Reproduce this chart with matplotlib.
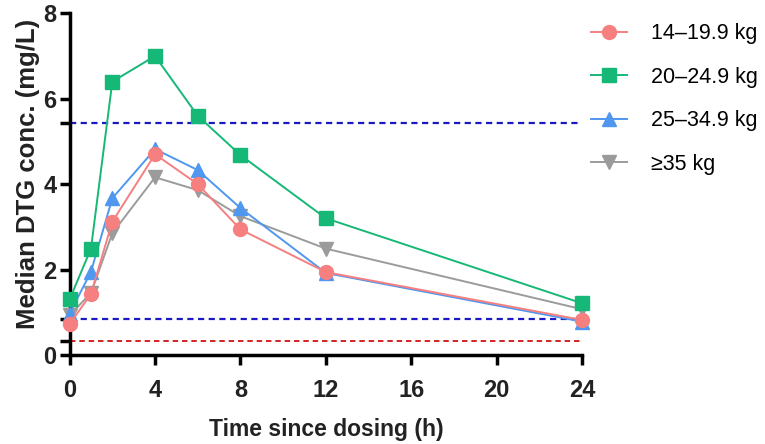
import matplotlib
matplotlib.use("Agg")
import matplotlib.pyplot as plt

# time points (h)
hours = [0, 1, 2, 4, 6, 8, 12, 24]

# median DTG concentration (mg/L) per weight band
wb_14 = [0.72, 1.43, 3.12, 4.70, 4.00, 2.94, 1.94, 0.82]
wb_20 = [1.30, 2.49, 6.40, 7.00, 5.60, 4.68, 3.20, 1.21]
wb_25 = [0.97, 1.95, 3.67, 4.82, 4.33, 3.44, 1.92, 0.78]
wb_35 = [0.93, 1.45, 2.85, 4.16, 3.86, 3.25, 2.49, 1.07]

labels = ["14\u201319.9 kg", "20\u201324.9 kg", "25\u201334.9 kg", "\u226535 kg"]

# reference lines
upper_ref = 5.43
lower_ref = 0.84
red_ref = 0.33

plt.rcParams['font.family'] = ['Liberation Sans', 'DejaVu Sans']

fig = plt.figure(figsize=(7.65, 4.44), dpi=100)
ax = fig.add_axes([0.091, 0.2005, 0.670, 0.7695])

dash = (0, (2.8, 2.0))
ax.plot([0, 24], [upper_ref, upper_ref], ls=dash, c="#1a1ac4", lw=1.6, zorder=1)
ax.plot([0, 24], [lower_ref, lower_ref], ls=dash, c="#1a1ac4", lw=1.6, zorder=1)
ax.plot([0, 24], [red_ref, red_ref], ls=dash, c="#d42222", lw=1.4, zorder=1)

ax.plot(hours, wb_35, 'v-', c="#9b9b9b", ms=10, lw=1.4, label=labels[3], clip_on=False, zorder=3)
ax.plot(hours, wb_25, '^-', c="#4f97ef", ms=10, lw=1.4, label=labels[2], clip_on=False, zorder=4)
ax.plot(hours, wb_20, 's-', c="#16b877", ms=9.5, lw=1.4, label=labels[1], clip_on=False, zorder=5)
ax.plot(hours, wb_14, 'o-', c="#f67f80", ms=10, lw=1.4, label=labels[0], clip_on=False, zorder=6)

ax.set_xlim(0, 24)
ax.set_ylim(0, 8)
ax.set_xticks([0, 4, 8, 12, 16, 20, 24])
ax.set_yticks([0, red_ref, lower_ref, 2, 4, upper_ref, 6, 8])
ax.set_yticklabels(["0", "", "", "2", "4", "", "6", "8"])

for s in ["top", "right"]:
    ax.spines[s].set_visible(False)
for s in ["left", "bottom"]:
    ax.spines[s].set_linewidth(2.5)
ax.tick_params(width=2.5, length=7, labelsize=17, direction='out', labelcolor='#222222')
ax.tick_params(axis='x', pad=10)
ax.tick_params(axis='y', pad=2.5)
for t in ax.get_xticklabels() + ax.get_yticklabels():
    t.set_fontweight('bold')

ax.set_xlabel("Time since dosing (h)", fontsize=16.5, fontweight='bold', labelpad=12, color='#222222')
ax.set_ylabel("Median DTG conc. (mg/L)", fontsize=18.5, fontweight='bold', color='#222222')
ax.yaxis.set_label_coords(-0.058, 0.53)

h, l = ax.get_legend_handles_labels()
order = [3, 2, 1, 0]
fig.legend([h[i] for i in order], [l[i] for i in order],
           loc='upper left', bbox_to_anchor=(0.758, 0.972), frameon=False, borderpad=0,
           fontsize=15.5, handlelength=1.7, labelspacing=1.05, handletextpad=1.1)

fig.savefig("out.png", dpi=100)
